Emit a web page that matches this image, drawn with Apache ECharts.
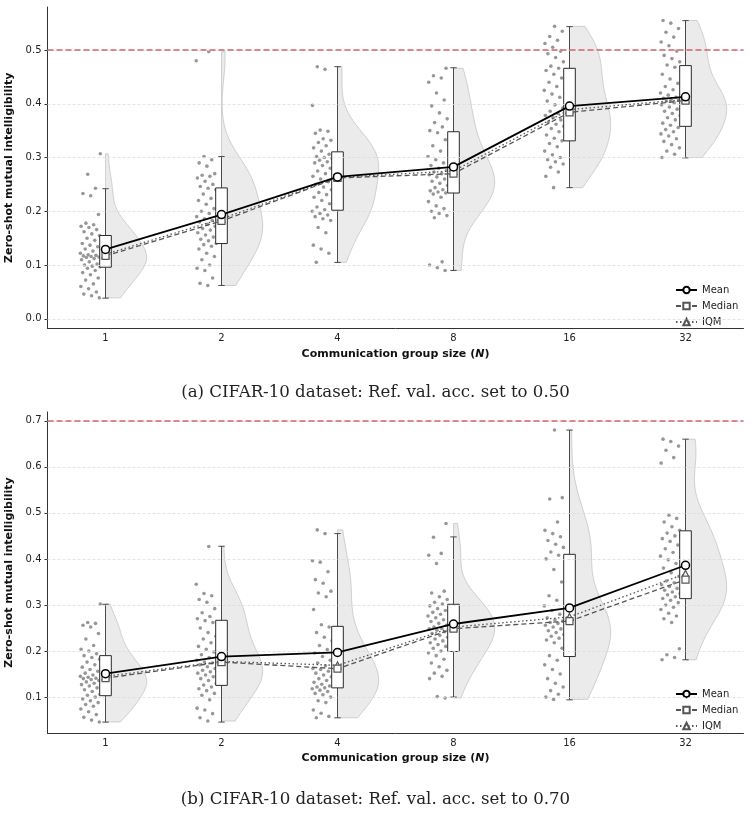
<!DOCTYPE html>
<html><head><meta charset="utf-8">
<script src="https://cdn.jsdelivr.net/npm/echarts@6/dist/echarts.min.js"></script>
<style>html,body{margin:0;padding:0;background:#fff}#c{width:751px;height:831px}</style>
</head><body><div id="c"></div>
<script>
// ---------- DATA ----------
const categories = ['1', '2', '4', '8', '16', '32'];
const yTicksA = [0.0, 0.1, 0.2, 0.3, 0.4, 0.5];
const yTicksB = [0.1, 0.2, 0.3, 0.4, 0.5, 0.6, 0.7];
const refA = 0.5;
const refB = 0.7;

// Panel (a): individual runs per group size
const a1 = [0.307,0.269,0.243,0.233,0.229,0.194,0.178,0.175,0.172,0.170,0.166,0.162,0.158,0.155,0.150,0.146,0.140,0.137,0.134,0.130,0.126,0.122,0.119,0.118,0.117,0.116,0.115,0.114,0.112,0.110,0.106,0.102,0.100,0.098,0.097,0.094,0.090,0.086,0.082,0.076,0.072,0.065,0.060,0.056,0.050,0.046,0.043,0.039];
const a2 = [0.497,0.480,0.302,0.296,0.290,0.284,0.270,0.267,0.265,0.262,0.256,0.250,0.246,0.243,0.240,0.232,0.224,0.220,0.213,0.205,0.200,0.196,0.190,0.186,0.183,0.180,0.176,0.172,0.168,0.165,0.160,0.156,0.152,0.148,0.145,0.140,0.138,0.135,0.130,0.122,0.116,0.110,0.100,0.094,0.090,0.076,0.066,0.062];
const a4 = [0.469,0.464,0.397,0.351,0.349,0.345,0.335,0.332,0.328,0.322,0.318,0.312,0.306,0.302,0.300,0.298,0.295,0.292,0.290,0.285,0.280,0.275,0.270,0.265,0.260,0.255,0.250,0.245,0.240,0.235,0.231,0.226,0.220,0.214,0.208,0.203,0.200,0.196,0.193,0.190,0.186,0.183,0.170,0.160,0.137,0.130,0.122,0.105];
const a8 = [0.466,0.452,0.448,0.440,0.420,0.407,0.396,0.383,0.372,0.365,0.357,0.350,0.346,0.333,0.322,0.312,0.302,0.296,0.290,0.285,0.280,0.276,0.273,0.270,0.268,0.264,0.260,0.256,0.252,0.248,0.244,0.240,0.238,0.236,0.234,0.232,0.226,0.218,0.210,0.205,0.200,0.196,0.192,0.188,0.106,0.100,0.095,0.090];
const a16 = [0.544,0.535,0.525,0.518,0.512,0.505,0.498,0.493,0.486,0.478,0.470,0.466,0.462,0.455,0.448,0.440,0.432,0.425,0.418,0.412,0.405,0.398,0.392,0.386,0.382,0.378,0.374,0.370,0.366,0.362,0.358,0.354,0.348,0.342,0.336,0.331,0.326,0.320,0.312,0.305,0.300,0.296,0.292,0.288,0.282,0.273,0.265,0.244];
const a32 = [0.555,0.550,0.540,0.533,0.524,0.515,0.508,0.498,0.490,0.484,0.478,0.472,0.468,0.455,0.446,0.438,0.432,0.426,0.420,0.416,0.412,0.410,0.408,0.407,0.405,0.402,0.398,0.394,0.390,0.386,0.382,0.378,0.374,0.370,0.364,0.360,0.356,0.352,0.348,0.344,0.340,0.335,0.330,0.324,0.318,0.312,0.306,0.300];
const meanA   = [0.129, 0.194, 0.264, 0.2826, 0.3957, 0.413];
const medianA = [0.117, 0.182, 0.262, 0.270, 0.384, 0.406];
const iqmA    = [0.120, 0.186, 0.263, 0.275, 0.389, 0.408];
const q1A  = [0.096, 0.140, 0.202, 0.234, 0.331, 0.358];
const q3A  = [0.155, 0.2435, 0.3106, 0.348, 0.466, 0.471];
const wloA = [0.0385, 0.062, 0.105, 0.090, 0.244, 0.2994];
const whiA = [0.242, 0.302, 0.469, 0.467, 0.5435, 0.5547];

// Panel (b)
const b1 = [0.302,0.262,0.260,0.256,0.252,0.238,0.226,0.212,0.204,0.200,0.194,0.190,0.186,0.182,0.176,0.170,0.165,0.160,0.156,0.152,0.148,0.145,0.143,0.141,0.140,0.138,0.136,0.133,0.130,0.127,0.124,0.120,0.116,0.112,0.106,0.104,0.100,0.096,0.092,0.088,0.084,0.080,0.074,0.068,0.062,0.056,0.050,0.046];
const b2 = [0.427,0.345,0.325,0.320,0.312,0.306,0.292,0.283,0.275,0.270,0.266,0.262,0.250,0.240,0.232,0.226,0.218,0.210,0.204,0.198,0.192,0.186,0.180,0.176,0.174,0.170,0.166,0.162,0.158,0.155,0.152,0.148,0.144,0.140,0.136,0.130,0.126,0.122,0.118,0.114,0.108,0.104,0.094,0.076,0.072,0.064,0.055,0.048];
const b4 = [0.463,0.455,0.396,0.393,0.372,0.355,0.347,0.330,0.326,0.318,0.290,0.257,0.252,0.240,0.230,0.222,0.212,0.203,0.196,0.188,0.180,0.174,0.168,0.162,0.160,0.156,0.152,0.148,0.144,0.140,0.136,0.132,0.128,0.124,0.122,0.120,0.118,0.115,0.112,0.108,0.105,0.100,0.092,0.088,0.072,0.065,0.058,0.055];
const b8 = [0.477,0.447,0.412,0.408,0.390,0.330,0.326,0.318,0.312,0.306,0.302,0.298,0.292,0.288,0.284,0.280,0.276,0.272,0.268,0.264,0.260,0.256,0.252,0.249,0.248,0.245,0.242,0.238,0.234,0.230,0.226,0.222,0.218,0.214,0.210,0.206,0.200,0.196,0.190,0.182,0.174,0.166,0.158,0.152,0.145,0.140,0.101,0.098];
const b16 = [0.680,0.533,0.530,0.480,0.462,0.455,0.448,0.440,0.432,0.425,0.415,0.408,0.400,0.377,0.350,0.320,0.310,0.298,0.288,0.280,0.272,0.268,0.265,0.262,0.260,0.256,0.252,0.248,0.244,0.240,0.236,0.232,0.228,0.224,0.218,0.206,0.190,0.180,0.170,0.160,0.150,0.140,0.130,0.122,0.114,0.106,0.100,0.095];
const b32 = [0.660,0.655,0.645,0.636,0.620,0.608,0.495,0.488,0.480,0.470,0.462,0.456,0.450,0.444,0.438,0.430,0.422,0.414,0.406,0.398,0.390,0.380,0.370,0.362,0.352,0.348,0.344,0.340,0.336,0.332,0.328,0.325,0.322,0.318,0.314,0.310,0.305,0.300,0.295,0.290,0.282,0.276,0.270,0.262,0.205,0.192,0.186,0.181];
const meanB   = [0.1507, 0.188, 0.197, 0.2587, 0.2935, 0.3862];
const medianB = [0.141, 0.176, 0.1616, 0.2486, 0.265, 0.355];
const iqmB    = [0.145, 0.1775, 0.169, 0.252, 0.274, 0.368];
const q1B  = [0.103, 0.1254, 0.120, 0.199, 0.188, 0.3138];
const q3B  = [0.190, 0.2667, 0.2536, 0.3015, 0.410, 0.461];
const wloB = [0.0457, 0.0457, 0.055, 0.100, 0.094, 0.181];
const whiB = [0.3015, 0.4275, 0.455, 0.4478, 0.6797, 0.660];

const pointsA = [a1, a2, a4, a8, a16, a32];
const pointsB = [b1, b2, b4, b8, b16, b32];

// ---------- RENDERING ----------
const VW = 0.355;   // half-violin max width (x units)
const BW = 0.10;    // box width
const CW = 0.055;   // whisker cap width
const FONT = 'DejaVu Sans';

function kdeProfile(vals) {
  const n = vals.length;
  const mean = vals.reduce((s, v) => s + v, 0) / n;
  const sd = Math.sqrt(vals.reduce((s, v) => s + (v - mean) * (v - mean), 0) / (n - 1));
  const h = sd * Math.pow(n, -0.2);
  const lo = Math.min(...vals), hi = Math.max(...vals);
  const out = [];
  const S = 120;
  let mx = 0;
  for (let k = 0; k <= S; k++) {
    const y = lo + (hi - lo) * k / S;
    let d = 0;
    for (const v of vals) { const u = (y - v) / h; d += Math.exp(-0.5 * u * u); }
    out.push([y, d]);
    if (d > mx) mx = d;
  }
  return out.map(p => [p[0], p[1] / mx]);
}

function panelSeries(pts, mean, med, iqm, q1, q3, wlo, whi, ref, ticks, xi, yi) {
  const profiles = pts.map(kdeProfile);
  const scatterData = [];
  pts.forEach((arr, i) => arr.forEach((v, k) => {
    const off = -(0.045 + 0.175 * ((k * 0.6180339887 + i * 0.37) % 1));
    scatterData.push([i + off, v]);
  }));
  const grid = {
    type: 'scatter', xAxisIndex: xi, yAxisIndex: yi, data: [], silent: true, z: 0,
    markLine: {
      silent: true, symbol: ['none', 'none'], label: { show: false }, animation: false,
      lineStyle: { color: '#dcdcdc', width: 0.8, type: [3, 2] },
      data: ticks.map(t => ({ yAxis: t }))
    }
  };
  const violin = {
    type: 'custom', xAxisIndex: xi, yAxisIndex: yi, silent: true, z: 1,
    encode: { x: 0, y: 1 },
    data: pts.map((_, i) => [i, med[i]]),
    renderItem: (params, api) => {
      const i = api.value(0);
      const prof = profiles[i];
      const poly = [];
      prof.forEach(p => poly.push(api.coord([i + p[1] * VW, p[0]])));
      for (let k = prof.length - 1; k >= 0; k--) poly.push(api.coord([i, prof[k][0]]));
      return { type: 'polygon', shape: { points: poly }, style: { fill: '#ebebeb', stroke: '#c4c4c4', lineWidth: 0.8 } };
    }
  };
  const scatter = {
    type: 'scatter', xAxisIndex: xi, yAxisIndex: yi, silent: true, z: 2,
    data: scatterData, symbolSize: 3.6,
    itemStyle: { color: '#7a7a7a', opacity: 0.78 }
  };
  const box = {
    type: 'custom', xAxisIndex: xi, yAxisIndex: yi, silent: true, z: 3,
    encode: { x: 0, y: [1, 2, 3, 4] },
    data: q1.map((_, i) => [i, wlo[i], q1[i], q3[i], whi[i]]),
    renderItem: (params, api) => {
      const i = api.value(0);
      const lo = api.value(1), a = api.value(2), b = api.value(3), hi = api.value(4);
      const pLo = api.coord([i, lo]), pA = api.coord([i, a]), pB = api.coord([i, b]), pHi = api.coord([i, hi]);
      const l = api.coord([i - BW / 2, b]), r = api.coord([i + BW / 2, a]);
      const cl = api.coord([i - CW / 2, lo])[0], cr = api.coord([i + CW / 2, lo])[0];
      const ws = { stroke: '#4a4a4a', lineWidth: 1 };
      return {
        type: 'group', children: [
          { type: 'line', shape: { x1: pLo[0], y1: pLo[1], x2: pA[0], y2: pA[1] }, style: ws },
          { type: 'line', shape: { x1: pB[0], y1: pB[1], x2: pHi[0], y2: pHi[1] }, style: ws },
          { type: 'line', shape: { x1: cl, y1: pLo[1], x2: cr, y2: pLo[1] }, style: ws },
          { type: 'line', shape: { x1: cl, y1: pHi[1], x2: cr, y2: pHi[1] }, style: ws },
          { type: 'rect', shape: { x: l[0], y: l[1], width: r[0] - l[0], height: r[1] - l[1] },
            style: { fill: '#ffffff', stroke: '#2a2a2a', lineWidth: 1 } }
        ]
      };
    }
  };
  const refLine = {
    type: 'scatter', xAxisIndex: xi, yAxisIndex: yi, data: [], silent: true, z: 4,
    markLine: {
      silent: true, symbol: ['none', 'none'], label: { show: false }, animation: false,
      lineStyle: { color: '#d3626c', width: 1.5, type: [6, 3] },
      data: [{ yAxis: ref }]
    }
  };
  const iqmS = {
    type: 'line', name: 'IQM', xAxisIndex: xi, yAxisIndex: yi, z: 10,
    data: iqm.map((v, i) => [i, v]),
    symbol: 'triangle', symbolSize: 7,
    lineStyle: { color: '#555555', width: 1.3, type: [1.5, 2.5] },
    itemStyle: { color: '#ffffff', borderColor: '#555555', borderWidth: 1.2 }
  };
  const medS = {
    type: 'line', name: 'Median', xAxisIndex: xi, yAxisIndex: yi, z: 11,
    data: med.map((v, i) => [i, v]),
    symbol: 'rect', symbolSize: 7,
    lineStyle: { color: '#555555', width: 1.3, type: [5, 3] },
    itemStyle: { color: '#ffffff', borderColor: '#555555', borderWidth: 1.2 }
  };
  const meanS = {
    type: 'line', name: 'Mean', xAxisIndex: xi, yAxisIndex: yi, z: 12,
    data: mean.map((v, i) => [i, v]),
    symbol: 'circle', symbolSize: 8,
    lineStyle: { color: '#000000', width: 1.8 },
    itemStyle: { color: '#ffffff', borderColor: '#000000', borderWidth: 1.5 }
  };
  return [grid, violin, scatter, box, refLine, iqmS, medS, meanS];
}

function catAxis(gi, name) {
  return {
    type: 'category', gridIndex: gi, data: categories, position: 'bottom',
    boundaryGap: true,
    axisLine: { onZero: false, lineStyle: { color: '#333', width: 1 } },
    axisTick: { alignWithLabel: true, length: 3, lineStyle: { color: '#333' } },
    axisLabel: { color: '#222', fontSize: 10, fontFamily: FONT, margin: 5 },
    splitLine: { show: false },
    name: name, nameLocation: 'middle', nameGap: 20,
    nameTextStyle: {
      rich: {
        b: { fontFamily: FONT, fontWeight: 'bold', fontSize: 11, color: '#111' },
        i: { fontFamily: FONT, fontWeight: 'bold', fontStyle: 'italic', fontSize: 11, color: '#111' }
      }
    }
  };
}
function hidX(gi) {
  return { type: 'value', gridIndex: gi, min: -0.5, max: 5.5, show: false, position: 'top',
    axisLine: { onZero: false }, splitLine: { show: false } };
}
function yAx(gi, mn, mx, ticks) {
  return {
    type: 'value', gridIndex: gi, min: mn, max: mx, position: 'left',
    axisLine: { show: true, onZero: false, lineStyle: { color: '#333', width: 1 } },
    axisTick: { show: true, length: 3, customValues: ticks, lineStyle: { color: '#333' } },
    axisLabel: { customValues: ticks, formatter: v => v.toFixed(1), color: '#222', fontSize: 10, fontFamily: FONT, margin: 6 },
    splitLine: { show: false },
    name: 'Zero-shot mutual intelligibility', nameLocation: 'middle', nameGap: 29,
    nameTextStyle: { fontFamily: FONT, fontWeight: 'bold', fontSize: 11, color: '#111' }
  };
}

const xName = '{b|Communication group size (}{i|N}{b|)}';
const legendBase = {
  data: ['Mean', 'Median', 'IQM'], orient: 'vertical', itemWidth: 21, itemHeight: 8, itemGap: 6,
  selectedMode: false, textStyle: { fontFamily: FONT, fontSize: 10, color: '#222' }
};

const chart = echarts.init(document.getElementById('c'), null, { renderer: 'canvas' });
chart.setOption({
  animation: false,
  backgroundColor: '#ffffff',
  textStyle: { fontFamily: FONT },
  grid: [
    { left: 47.5, top: 7, width: 696, height: 321.5, containLabel: false, outerBoundsMode: 'none' },
    { left: 47.5, top: 412, width: 696, height: 321, containLabel: false, outerBoundsMode: 'none' }
  ],
  xAxis: [catAxis(0, xName), hidX(0), catAxis(1, xName), hidX(1)],
  yAxis: [yAx(0, -0.018, 0.58, yTicksA), yAx(1, 0.022, 0.719, yTicksB)],
  legend: [
    Object.assign({}, legendBase, { left: 670, top: 280 }),
    Object.assign({}, legendBase, { left: 670, top: 684 })
  ],
  series: [
    ...panelSeries(pointsA, meanA, medianA, iqmA, q1A, q3A, wloA, whiA, refA, yTicksA, 1, 0),
    ...panelSeries(pointsB, meanB, medianB, iqmB, q1B, q3B, wloB, whiB, refB, yTicksB, 3, 1)
  ],
  graphic: [
    { type: 'text', left: 'center', top: 384, style: { text: '(a) CIFAR-10 dataset: Ref. val. acc. set to 0.50', font: '16.6px "DejaVu Serif"', fill: '#222' } },
    { type: 'text', left: 'center', top: 791, style: { text: '(b) CIFAR-10 dataset: Ref. val. acc. set to 0.70', font: '16.6px "DejaVu Serif"', fill: '#222' } }
  ]
});
</script></body></html>
